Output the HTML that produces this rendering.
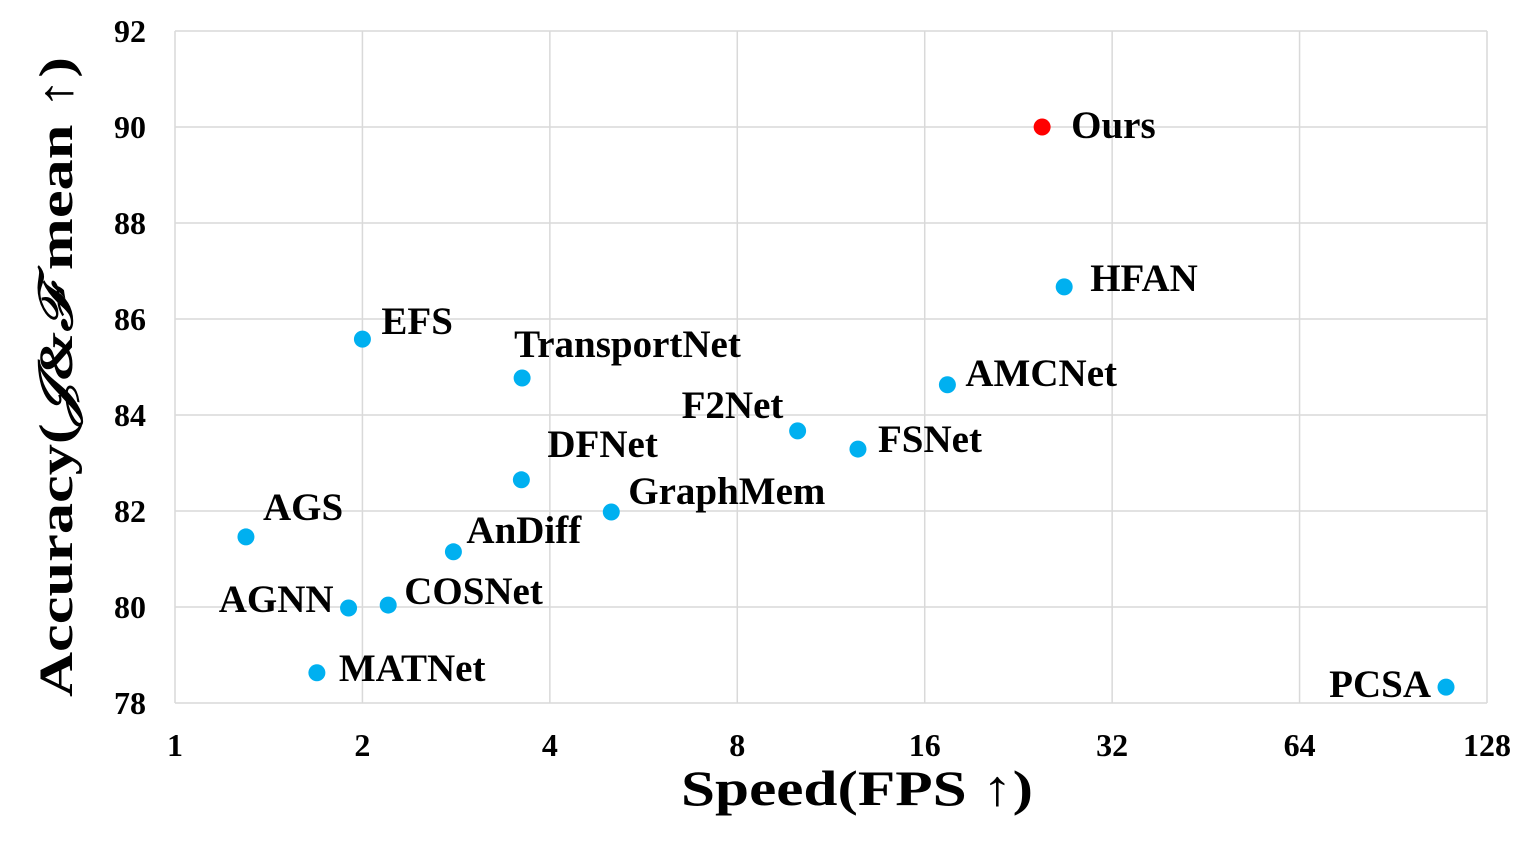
<!DOCTYPE html>
<html><head><meta charset="utf-8"><style>
body{margin:0;background:#fff}
text{font-family:"Liberation Serif","DejaVu Serif",serif;font-weight:bold;fill:#000}
</style></head><body>
<svg id="chart" width="1529" height="844" xmlns="http://www.w3.org/2000/svg">
<g id="grid"></g><g id="axes"></g><g id="marks"></g>
<text x="857" y="805" text-anchor="middle" font-size="50" textLength="352" lengthAdjust="spacingAndGlyphs">Speed(FPS ↑)</text>
<text transform="translate(72,377) rotate(-90)" text-anchor="middle" font-size="48" textLength="640" lengthAdjust="spacingAndGlyphs">Accuracy(<tspan font-style="italic">𝒥&amp;ℱ</tspan> mean ↑)</text>
</svg>
<script>
const methods=["Ours","HFAN","AMCNet","FSNet","F2Net","GraphMem","DFNet","TransportNet","EFS","AGS","AnDiff","COSNet","AGNN","MATNet","PCSA"];
const fps=[24.7,26.8,17.4,12.5,10.0,5.02,3.6,3.61,2.0,1.30,2.80,2.2,1.9,1.69,110];
const acc=[90.0,86.67,84.63,83.29,83.67,81.98,82.65,84.77,85.58,81.46,81.15,80.04,79.98,78.63,78.33];
const xTicks=[1,2,4,8,16,32,64,128];
const yTicks=[78,80,82,84,86,88,90,92];
const labelOff=[[29,-1],[26,-8],[18,-11],[20,-9],[-116,-25],[17,-20],[26,-35],[-8,-33],[19,-17],[17,-29],[13,-21],[16,-13],[-15,-8],[22,-4],[-15,-2]];
const anchors=["start","start","start","start","start","start","start","start","start","start","start","start","end","start","end"];
const X0=175,X1=1487,Y0=703,Y1=31;
const sx=v=>X0+(Math.log2(v)-0)/7*(X1-X0);
const sy=v=>Y0-(v-78)/14*(Y0-Y1);
const NS="http://www.w3.org/2000/svg";
const mk=(t,a,p)=>{const e=document.createElementNS(NS,t);for(const k in a)e.setAttribute(k,a[k]);p.appendChild(e);return e;};
const grid=document.getElementById('grid'),axes=document.getElementById('axes'),marks=document.getElementById('marks');
xTicks.forEach(t=>{
 const l=mk('line',{x1:sx(t),x2:sx(t),y1:Y1,y2:Y0,stroke:'#d9d9d9','stroke-width':1.5},grid);
 
 
 const tx=mk('text',{x:sx(t),y:756,'text-anchor':'middle','font-size':32},axes);tx.textContent=t;
 
 
});
yTicks.forEach(t=>{
 const l=mk('line',{x1:X0,x2:X1,y1:sy(t),y2:sy(t),stroke:'#d9d9d9','stroke-width':1.5},grid);
 
 
 const tx=mk('text',{x:146,y:sy(t)+11,'text-anchor':'end','font-size':32},axes);tx.textContent=t;
 
 
});
methods.forEach((m,i)=>{
 const cx=sx(fps[i]),cy=sy(acc[i]);
 const c=mk('circle',{cx:cx,cy:cy,r:8.5,fill:m==="Ours"?'#ff0000':'#00b0f0'},marks);
 
 
 const t=mk('text',{x:cx+labelOff[i][0],y:cy+labelOff[i][1]+12,'text-anchor':anchors[i],'font-size':39},marks);
 t.textContent=m;
 
 
});
</script>
</body></html>
